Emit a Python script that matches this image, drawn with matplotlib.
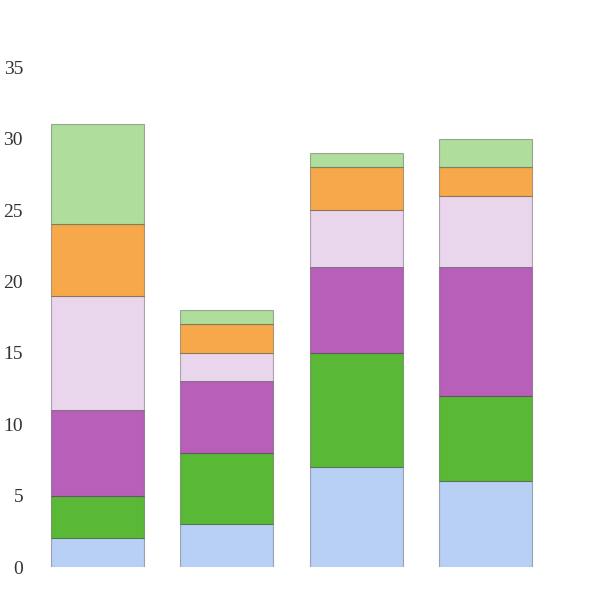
import matplotlib
matplotlib.use("Agg")
import matplotlib.pyplot as plt
import numpy as np

categories = ["A", "B", "C", "D"]
series_names = ["S1", "S2", "S3", "S4", "S5", "S6"]
s1 = [2, 3, 7, 6]
s2 = [3, 5, 8, 6]
s3 = [6, 5, 6, 9]
s4 = [8, 2, 4, 5]
s5 = [5, 2, 3, 2]
s6 = [7, 1, 1, 2]
series = [s1, s2, s3, s4, s5, s6]
colors = ["#b8d0f6", "#5ab837", "#b75fb9", "#ead6ec", "#f6a84b", "#aedd9c"]
yticks = [0, 5, 10, 15, 20, 25, 30, 35]

fig = plt.figure(figsize=(6, 6), dpi=100)
ax = fig.add_axes([0.05, 0.055, 0.95, 0.833])
x = np.arange(len(categories))
bottom = np.zeros(len(categories))
for vals, c in zip(series, colors):
    ax.bar(x, vals, bottom=bottom, width=0.72, color=c,
           edgecolor=(0, 0, 0, 0.3), linewidth=0.8)
    bottom += np.array(vals)

ax.set_ylim(0, 35)
ax.set_xlim(-0.522, 3.885)
ax.set_yticks(yticks)
ax.set_yticklabels([str(t) for t in yticks], family="Liberation Serif",
                   fontsize=14, color="#333333")
ax.set_xticks([])
ax.tick_params(axis="y", length=0, pad=5)
for s in ax.spines.values():
    s.set_visible(False)

fig.savefig("out.png", dpi=100)
